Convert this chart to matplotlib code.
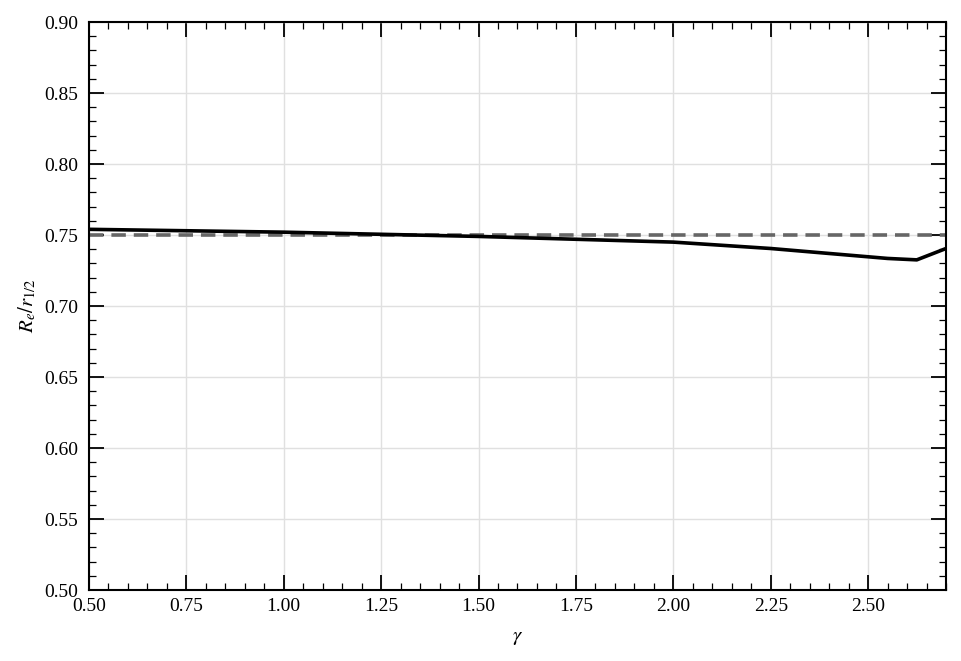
import matplotlib
matplotlib.use("Agg")
import matplotlib.pyplot as plt
from matplotlib.ticker import MultipleLocator, FormatStrFormatter

gamma = [0.5, 0.75, 1.0, 1.25, 1.5, 1.75, 2.0, 2.25, 2.4, 2.55, 2.625, 2.7]
ratio = [0.754, 0.753, 0.752, 0.7505, 0.749, 0.747, 0.745, 0.7405, 0.737, 0.7335, 0.7325, 0.7405]
ref_value = 0.75

plt.rcParams['font.family'] = ['Liberation Serif', 'DejaVu Serif']
plt.rcParams['mathtext.fontset'] = 'stix'

fig = plt.figure(figsize=(9.61, 6.61), dpi=100)
ax = fig.add_axes([0.0926, 0.1074, 0.8918, 0.8593])

ax.plot(gamma, ratio, color='black', lw=2.6, zorder=3)
ax.axhline(ref_value, color='#666666', lw=2.6, ls=(0, (4, 2.2)), zorder=2)

ax.set_xlim(0.5, 2.7)
ax.set_ylim(0.5, 0.9)
ax.xaxis.set_major_locator(MultipleLocator(0.25))
ax.xaxis.set_minor_locator(MultipleLocator(0.05))
ax.yaxis.set_major_locator(MultipleLocator(0.05))
ax.yaxis.set_minor_locator(MultipleLocator(0.01))
ax.xaxis.set_major_formatter(FormatStrFormatter('%.2f'))
ax.yaxis.set_major_formatter(FormatStrFormatter('%.2f'))

ax.grid(True, which='major', color='#e0e0e0', lw=1.0)
ax.set_axisbelow(True)
ax.tick_params(which='both', direction='in', top=True, right=True, labelsize=14, colors='black')
ax.tick_params(which='major', length=11, width=1.3)
ax.tick_params(which='minor', length=5, width=0.9)
ax.tick_params(axis='x', which='major', pad=6)
ax.tick_params(axis='y', which='major', pad=8)
for s in ax.spines.values():
    s.set_linewidth(1.5)

ax.set_xlabel(r'$\gamma$', fontsize=15, labelpad=9)
ax.set_ylabel(r'$R_e/r_{1/2}$', fontsize=15, labelpad=4)

fig.savefig('out.png', dpi=100)
